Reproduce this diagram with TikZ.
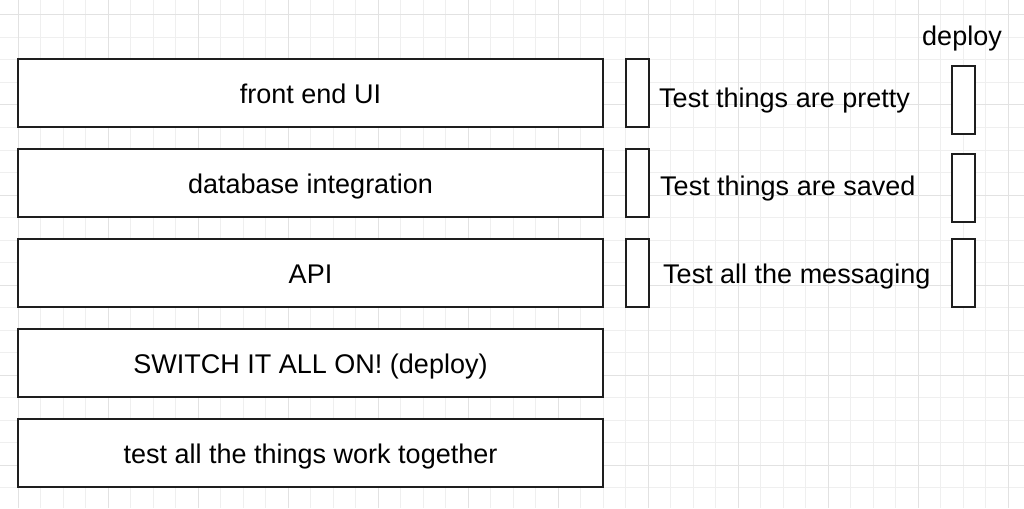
\documentclass[tikz,border=0pt]{standalone}
\usepackage{fontspec}
\setmainfont{Liberation Sans}
\definecolor{minorgrid}{HTML}{EFEFEF}
\definecolor{majorgrid}{HTML}{E2E2E2}
\definecolor{boxline}{HTML}{1E1E1E}
\begin{document}
\begin{tikzpicture}[x=1pt,y=-1pt,
  box/.style={draw=boxline,line width=2pt,fill=white,minimum width=585pt,minimum height=68pt,inner sep=0pt},
  slim/.style={draw=boxline,line width=2pt,fill=white,minimum width=23pt,minimum height=68pt,inner sep=0pt},
  lbl/.style={font=\fontsize{27}{31}\selectfont,inner sep=0pt,text=black}]
\useasboundingbox (0,0) rectangle (1024,508);
\fill[white] (0,0) rectangle (1024,508);
% grid
\foreach \i in {-4,...,48} {
  \pgfmathsetmacro\xx{18+22.5*\i}
  \draw[minorgrid,line width=1pt] (\xx,0) -- (\xx,508);
}
\foreach \j in {-4,...,25} {
  \pgfmathsetmacro\yy{15+22.5*\j}
  \draw[minorgrid,line width=1pt] (0,\yy) -- (1024,\yy);
}
\foreach \i in {-1,...,12} {
  \pgfmathsetmacro\xx{18+90*\i}
  \draw[majorgrid,line width=1pt] (\xx,0) -- (\xx,508);
}
\foreach \j in {-1,...,6} {
  \pgfmathsetmacro\yy{15+90*\j}
  \draw[majorgrid,line width=1pt] (0,\yy) -- (1024,\yy);
}
% left boxes
\node[box] (b1) at (310.5,93) {};
\node[box] (b2) at (310.5,183) {};
\node[box] (b3) at (310.5,273) {};
\node[box] (b4) at (310.5,363) {};
\node[box] (b5) at (310.5,453) {};
\node[lbl,anchor=base] (t1) at (310.5,103) {front end UI};
\node[lbl,anchor=base] (t2) at (310.5,193) {database integration};
\node[lbl,anchor=base] (t3) at (310.5,283) {API};
\node[lbl,anchor=base] (t4) at (310.5,373) {SWITCH IT ALL ON! (deploy)};
\node[lbl,anchor=base] (t5) at (310.5,463) {test all the things work together};
% test boxes
\node[slim] (s1) at (637.5,93) {};
\node[slim] (s2) at (637.5,183) {};
\node[slim] (s3) at (637.5,273) {};
\node[lbl,anchor=base west] (r1) at (659,108) {Test things are pretty};
\node[lbl,anchor=base west] (r2) at (660,195) {Test things are saved};
\node[lbl,anchor=base west] (r3) at (663,283) {Test all the messaging};
% deploy boxes
\node[slim] (d1) at (963.5,100) {};
\node[slim] (d2) at (963.5,187.5) {};
\node[slim] (d3) at (963.5,273) {};
\node[lbl,anchor=base] (dl) at (962,46) {deploy};
\end{tikzpicture}
\end{document}
